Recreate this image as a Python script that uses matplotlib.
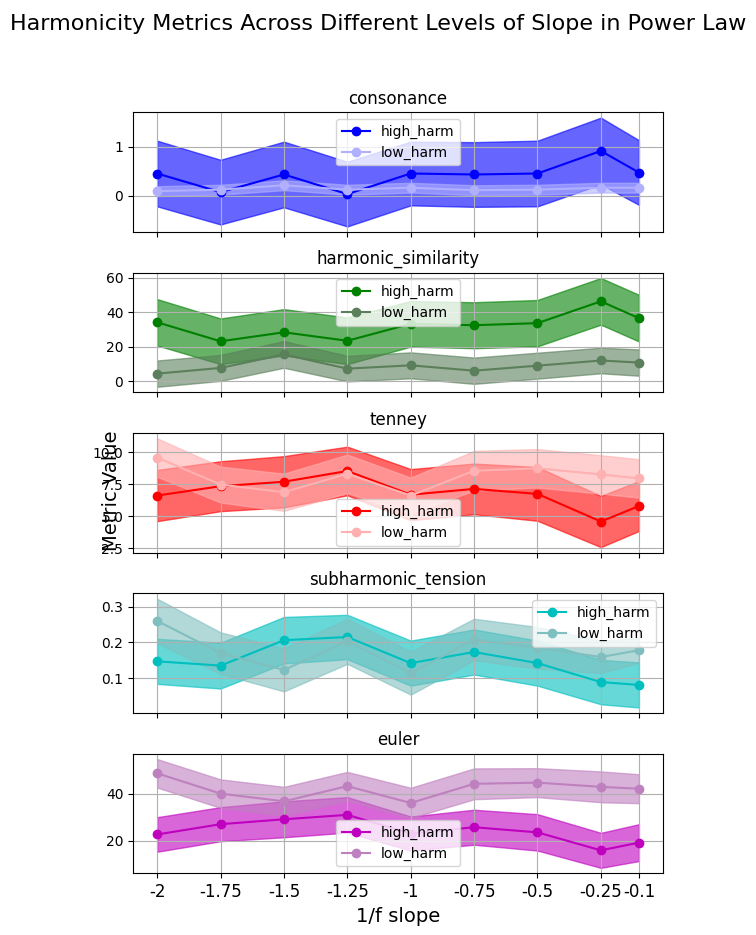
import matplotlib
matplotlib.use("Agg")
import matplotlib.pyplot as plt
import numpy as np

slopes = [-2, -1.75, -1.5, -1.25, -1, -0.75, -0.5, -0.25, -0.1]
slope_labels = ["-2", "-1.75", "-1.5", "-1.25", "-1", "-0.75", "-0.5", "-0.25", "-0.1"]

metrics = ["consonance", "harmonic_similarity", "tenney", "subharmonic_tension", "euler"]

# means and std for each metric, high_harm / low_harm
consonance_high = [0.45, 0.07, 0.43, 0.03, 0.45, 0.43, 0.45, 0.91, 0.47]
consonance_high_std = [0.67, 0.66, 0.67, 0.66, 0.65, 0.66, 0.67, 0.68, 0.66]
consonance_low = [0.09, 0.12, 0.21, 0.12, 0.16, 0.11, 0.12, 0.16, 0.16]
consonance_low_std = [0.10, 0.10, 0.10, 0.10, 0.10, 0.10, 0.10, 0.10, 0.10]

harmsim_high = [34.2, 23.2, 28.4, 23.5, 33.3, 32.5, 33.7, 46.3, 36.6]
harmsim_high_std = [13.4, 13.2, 13.4, 13.5, 13.2, 13.3, 13.4, 13.5, 13.5]
harmsim_low = [4.5, 7.8, 15.6, 7.4, 9.3, 6.2, 9.1, 12.1, 10.9]
harmsim_low_std = [7.6, 7.5, 7.7, 7.4, 7.5, 7.6, 7.5, 7.4, 7.6]

tenney_high = [6.61, 7.34, 7.69, 8.53, 6.68, 7.13, 6.74, 4.58, 5.79]
tenney_high_std = [2.0, 1.95, 2.0, 1.9, 2.0, 1.98, 2.1, 2.0, 1.95]
tenney_low = [9.58, 7.47, 6.87, 8.31, 6.61, 8.55, 8.74, 8.26, 7.95]
tenney_low_std = [1.5, 1.4, 1.45, 1.5, 1.4, 1.55, 1.5, 1.5, 1.5]

subharm_high = [0.147, 0.135, 0.206, 0.215, 0.142, 0.173, 0.142, 0.089, 0.081]
subharm_high_std = [0.063, 0.064, 0.065, 0.062, 0.063, 0.063, 0.063, 0.062, 0.063]
subharm_low = [0.260, 0.170, 0.123, 0.203, 0.114, 0.208, 0.185, 0.159, 0.178]
subharm_low_std = [0.062, 0.058, 0.060, 0.063, 0.060, 0.058, 0.058, 0.045, 0.035]

euler_high = [22.6, 27.0, 29.1, 31.0, 23.0, 25.7, 23.5, 15.8, 19.1]
euler_high_std = [7.4, 7.3, 7.7, 7.6, 7.3, 7.5, 7.8, 7.5, 7.9]
euler_low = [48.8, 40.1, 36.8, 43.3, 36.1, 44.3, 44.8, 43.0, 42.2]
euler_low_std = [6.1, 6.1, 6.2, 6.1, 6.5, 6.6, 6.2, 6.6, 6.2]

high_means = [consonance_high, harmsim_high, tenney_high, subharm_high, euler_high]
high_stds = [consonance_high_std, harmsim_high_std, tenney_high_std, subharm_high_std, euler_high_std]
low_means = [consonance_low, harmsim_low, tenney_low, subharm_low, euler_low]
low_stds = [consonance_low_std, harmsim_low_std, tenney_low_std, subharm_low_std, euler_low_std]

high_colors = ["#0000ff", "#008000", "#ff0000", "#00bfbf", "#bf00bf"]
low_colors = ["#b0b0ff", "#5a7f5a", "#ffb0b0", "#80bfbf", "#bf80bf"]
legend_locs = ["upper center", "upper center", "lower center", "upper right", "lower center"]

fig, axes = plt.subplots(5, 1, figsize=(7.56, 9.35), dpi=100, sharex=True)
fig.subplots_adjust(left=0.176, right=0.877, top=0.880, bottom=0.066, hspace=0.34)

x = np.array(slopes)
for i, ax in enumerate(axes):
    hm = np.array(high_means[i]); hs = np.array(high_stds[i])
    lm = np.array(low_means[i]); ls = np.array(low_stds[i])
    ax.plot(x, hm, "-o", color=high_colors[i], label="high_harm")
    ax.fill_between(x, hm - hs, hm + hs, color=high_colors[i], alpha=0.6)
    ax.plot(x, lm, "-o", color=low_colors[i], label="low_harm")
    ax.fill_between(x, lm - ls, lm + ls, color=low_colors[i], alpha=0.6)
    ax.set_title(metrics[i])
    ax.grid(True)
    ax.legend(loc=legend_locs[i])

axes[-1].set_xticks(slopes)
axes[-1].set_xticklabels(slope_labels, fontsize=12)
axes[-1].set_xlabel("1/f slope", fontsize=14)
fig.text(0.147, 0.475, "Metric Value", rotation=90, fontsize=14, ha="center", va="center")
fig.suptitle("Harmonicity Metrics Across Different Levels of Slope in Power Law", fontsize=16, y=0.985)

fig.savefig("out.png", dpi=100)
